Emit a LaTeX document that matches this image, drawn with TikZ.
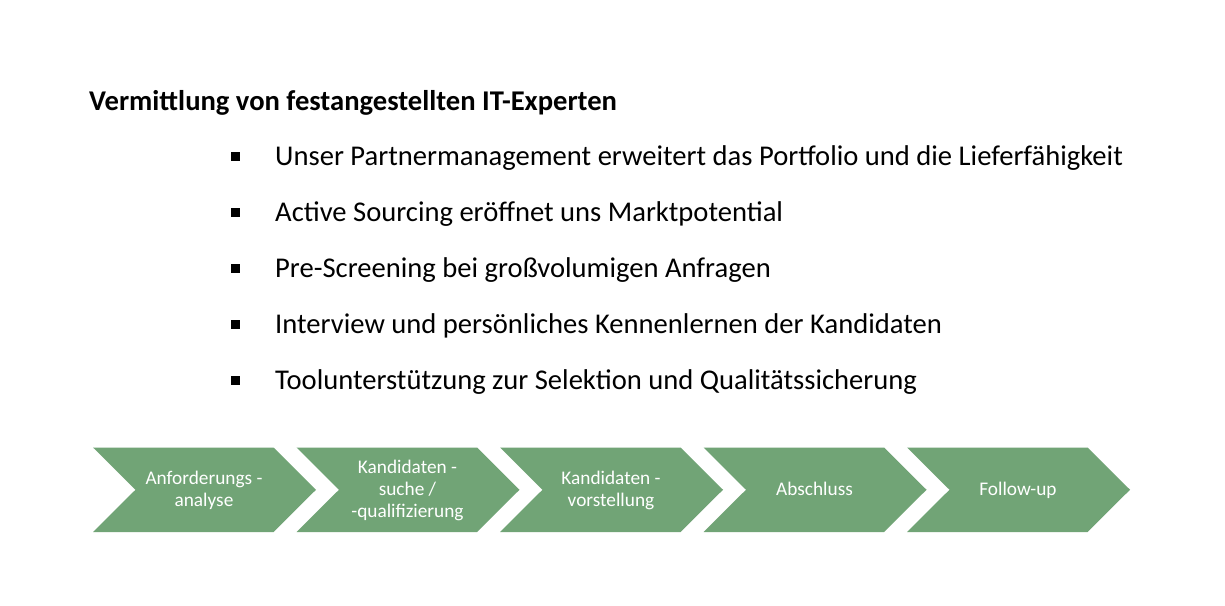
\documentclass[tikz,border=0pt]{standalone}
\usepackage{fontspec}
\setmainfont{Carlito}
\definecolor{chevgreen}{HTML}{71A476}
\begin{document}
\begin{tikzpicture}[x=1pt,y=-1pt,
  chevtext/.style={anchor=base,text=white,align=center,font=\fontsize{19.3}{22}\selectfont,inner sep=0pt},
  bullettext/.style={anchor=base west,font=\fontsize{28.6}{32}\selectfont,inner sep=0pt},
  bulletsq/.style={fill=black,minimum size=8.5pt,inner sep=0pt},
  titletext/.style={anchor=base west,font=\bfseries\fontsize{28.6}{32}\selectfont,inner sep=0pt}]
\useasboundingbox (0,0) rectangle (1225,605);
\fill[white] (0,0) rectangle (1225,605);
\node[titletext] (title) at (89,110) {Vermittlung von festangestellten IT-Experten};
\foreach \i/\y/\t in {1/165.5/{Unser Partnermanagement erweitert das Portfolio und die Lieferfähigkeit},
                      2/221.5/{Active Sourcing eröffnet uns Marktpotential},
                      3/277.5/{Pre-Screening bei großvolumigen Anfragen},
                      4/333.5/{Interview und persönliches Kennenlernen der Kandidaten},
                      5/389.5/{Toolunterstützung zur Selektion und Qualitätssicherung}}{
  \node[bulletsq] (b\i) at (235.5,\y-9) {};
  \node[bullettext] (t\i) at (275,\y) {\t};
}
\foreach \i/\x/\b/\t in {1/93/506.5/{Anforderungs -\\analyse},
                      2/296.5/517.5/{Kandidaten -\\suche /\\-qualifizierung},
                      3/500/506.5/{Kandidaten -\\vorstellung},
                      4/703.5/495/{Abschluss},
                      5/907/495/{Follow-up}}{
  \fill[chevgreen] (\x,447.5) -- (\x+180.5,447.5) -- (\x+223,489.75) -- (\x+180.5,532) -- (\x,532) -- (\x+42.5,489.75) -- cycle;
  \node[chevtext] (c\i) at (\x+111,\b) {\t};
}
\end{tikzpicture}
\end{document}
